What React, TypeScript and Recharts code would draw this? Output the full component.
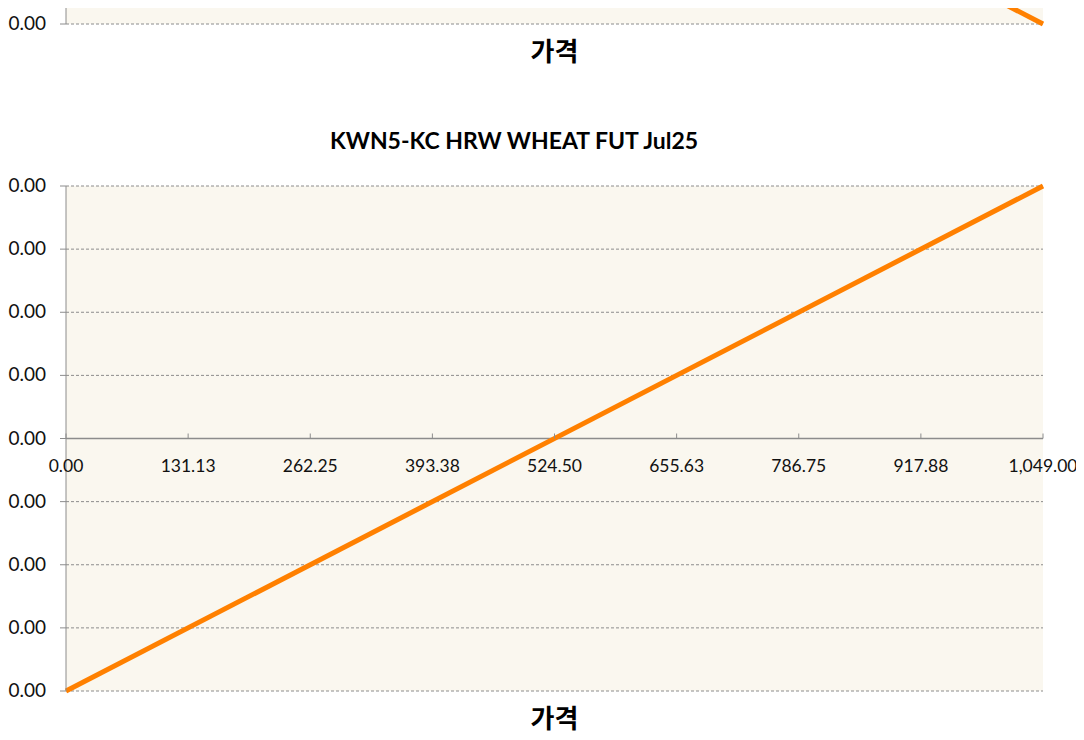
import { CartesianGrid, Line, LineChart, ReferenceLine, XAxis, YAxis } from "recharts"

const prices = [0, 1049]
const upperValues = [0.004, -0.004]
const lowerValues = [-0.004, 0.004]
const xTicks = [0, 131.125, 262.25, 393.375, 524.5, 655.625, 786.75, 917.875, 1049]
const yTicks = [-0.004, -0.003, -0.002, -0.001, 0, 0.001, 0.002, 0.003, 0.004]
const chartTitle = "KWN5-KC HRW WHEAT FUT Jul25"
const axisTitle = "가격"

const FONT = "Lato, 'Noto Sans CJK KR', sans-serif"
const BLOCK_W = 1084
const BLOCK_H = 667
const PLOT_TOP = 113
const PLOT_H = 505

const fmtX = (v: number) =>
  v.toLocaleString("en-US", { minimumFractionDigits: 2, maximumFractionDigits: 2 })
const fmtY = (v: number) => (Math.abs(v) < 0.005 ? 0 : v).toFixed(2)

function MidTick(props: any) {
  const { x, payload, showLabel } = props
  const axisY = PLOT_TOP + PLOT_H / 2
  return (
    <g>
      <line x1={x} x2={x} y1={axisY} y2={axisY - 5} stroke="#8c8c8c" />
      {showLabel && (
        <text x={x} y={axisY + 33} textAnchor="middle" fontSize={17.5} fill="#111" fontFamily={FONT}>
          {fmtX(payload.value)}
        </text>
      )}
    </g>
  )
}

function YTick(props: any) {
  const { x, y, payload, minY } = props
  if (y < minY) return <g />
  return (
    <text x={x} y={y} dy={6} textAnchor="end" fontSize={19} fill="#111" fontFamily={FONT}>
      {fmtY(payload.value)}
    </text>
  )
}

function PayoffBlock({ top, values, clipped }: { top: number; values: number[]; clipped?: boolean }) {
  const data = prices.map((p, i) => ({ price: p, value: values[i] }))
  return (
    <div style={{ position: "absolute", left: 0, top, width: BLOCK_W, height: BLOCK_H }}>
      {!clipped && (
        <div
          style={{
            position: "absolute",
            left: 0,
            width: 1028,
            top: 52,
            textAlign: "center",
            fontFamily: FONT,
            fontWeight: 700,
            fontSize: 23,
            lineHeight: "30px",
          }}
        >
          {chartTitle}
        </div>
      )}
      <LineChart
        width={BLOCK_W}
        height={BLOCK_H}
        data={data}
        margin={{ top: PLOT_TOP, right: 41, bottom: 19, left: 0 }}
      >
        <CartesianGrid
          vertical={false}
          fill="#faf7ef"
          stroke="#8c8c8c"
          strokeDasharray="3 2"
          horizontalValues={yTicks}
        />
        <XAxis
          dataKey="price"
          type="number"
          domain={[0, 1049]}
          ticks={xTicks}
          interval={0}
          axisLine={false}
          tickLine={false}
          height={30}
          tick={<MidTick showLabel={!clipped} />}
        />
        <YAxis
          type="number"
          domain={[-0.004, 0.004]}
          ticks={yTicks}
          interval={0}
          width={66}
          axisLine={{ stroke: "#8c8c8c" }}
          tickLine={{ stroke: "#8c8c8c" }}
          tickSize={6}
          tickMargin={14}
          tick={<YTick minY={clipped ? -top + 10 : 0} />}
        />
        <ReferenceLine y={0} stroke="#8c8c8c" strokeWidth={1.5} />
        <Line
          type="linear"
          dataKey="value"
          stroke="#ff8000"
          strokeWidth={5}
          dot={false}
          isAnimationActive={false}
        />
      </LineChart>
      <div
        style={{
          position: "absolute",
          left: 66,
          width: 977,
          top: 628,
          textAlign: "center",
          fontFamily: FONT,
          fontWeight: 700,
          fontSize: 26,
          lineHeight: "34px",
        }}
      >
        {axisTitle}
      </div>
    </div>
  )
}

export default function App() {
  return (
    <div
      style={{
        position: "relative",
        width: 1084,
        height: 740,
        overflow: "hidden",
        margin: -8,
        background: "#fff",
      }}
    >
      <PayoffBlock top={73 - BLOCK_H} values={upperValues} clipped />
      <PayoffBlock top={73} values={lowerValues} />
    </div>
  )
}
